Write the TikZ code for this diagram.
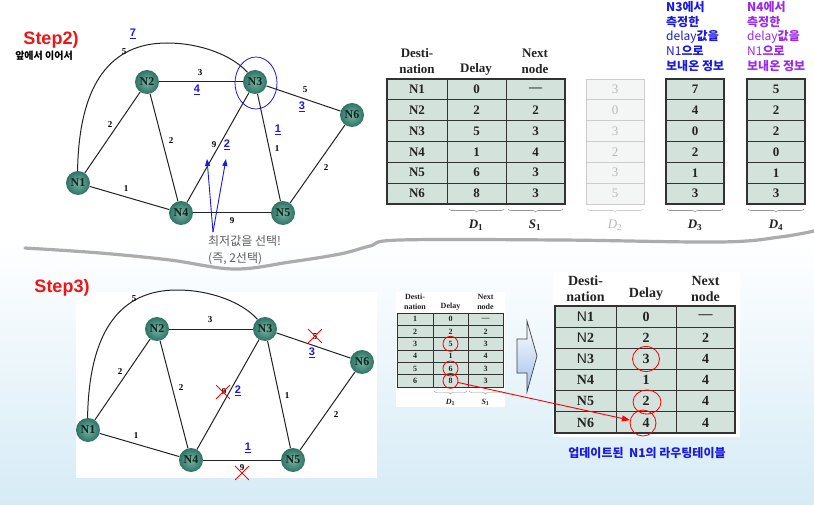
\documentclass[tikz,border=0pt]{standalone}
\usepackage{fontspec}
\setmainfont{Liberation Serif}
\newfontfamily\arial{Liberation Sans}
\newfontfamily\kr{Noto Sans CJK KR}
\usetikzlibrary{decorations.pathreplacing,arrows.meta,shapes.geometric,shapes.misc}
\definecolor{nodeIn}{RGB}{120,180,165}
\definecolor{nodeOut}{RGB}{45,115,100}
\definecolor{nodeTxt}{RGB}{20,35,30}
\definecolor{edgecol}{RGB}{35,35,35}
\definecolor{ublue}{RGB}{25,25,225}
\definecolor{upurple}{RGB}{155,40,235}
\definecolor{stepred}{RGB}{240,20,20}
\definecolor{tabfill}{RGB}{211,226,219}
\definecolor{tabline}{RGB}{50,50,50}
\definecolor{tabtext}{RGB}{35,35,35}
\definecolor{fadefill}{RGB}{243,246,244}
\definecolor{fadeline}{RGB}{205,205,205}
\definecolor{fadetext}{RGB}{185,185,185}
\definecolor{sepgrey}{RGB}{172,172,172}
\definecolor{bgblue}{RGB}{214,235,246}
\definecolor{greytxt}{RGB}{95,95,95}
\definecolor{arrowblue}{RGB}{160,190,235}
\definecolor{bracegrey}{RGB}{150,150,150}

\tikzset{
  edge/.style={draw=edgecol, line width=1pt},
  netnode/.style={circle, minimum size=24pt, inner sep=0pt, inner color=nodeIn, outer color=nodeOut, text=nodeTxt, font=\bfseries\fontsize{12}{12}\selectfont},
  wlab/.style={font=\bfseries\fontsize{9}{9}\selectfont, text=black, inner sep=0pt},
  bluelab/.style={font=\arial\bfseries\fontsize{11}{11}\selectfont, text=ublue, inner sep=0pt},
  redx/.style={cross out, draw=red, line width=0.8pt, minimum size=13pt, inner sep=0pt},
  cellbig/.style={fill=tabfill, draw=tabline, line width=0.9pt},
  fadecell/.style={fill=fadefill, draw=fadeline, line width=0.9pt},
  ttxt/.style={text=tabtext, font=\bfseries\fontsize{13}{13}\selectfont, inner sep=0pt},
  btxt/.style={text=tabtext, font=\bfseries\fontsize{14}{14}\selectfont, inner sep=0pt},
  stxt/.style={text=tabtext, font=\bfseries\fontsize{8}{8}\selectfont, inner sep=0pt},
  fadetxt/.style={text=fadetext, font=\fontsize{13}{13}\selectfont, inner sep=0pt},
  bracestyle/.style={draw=bracegrey, line width=0.6pt, decorate, decoration={brace, mirror, amplitude=3pt}},
  krblue/.style={text=ublue, font=\kr\fontsize{12}{12}\selectfont, inner sep=0pt},
  krpurple/.style={text=upurple, font=\kr\fontsize{12}{12}\selectfont, inner sep=0pt},
  redcirc/.style={circle, draw=red, line width=0.8pt, inner sep=0pt},
}

\newcommand\netgraph[1]{%
  \node[netnode] (#1N1) at (78,183) {N1};
  \node[netnode] (#1N2) at (147,82) {N2};
  \node[netnode] (#1N3) at (255,82) {N3};
  \node[netnode] (#1N4) at (181,213) {N4};
  \node[netnode] (#1N5) at (283,213) {N5};
  \node[netnode] (#1N6) at (352,115) {N6};
  \draw[edge] (#1N1) -- (#1N2);
  \draw[edge] (#1N1) -- (#1N4);
  \draw[edge] (#1N2) -- (#1N3);
  \draw[edge] (#1N2) -- (#1N4);
  \draw[edge] (#1N3) -- (#1N4);
  \draw[edge] (#1N3) -- (#1N5);
  \draw[edge] (#1N3) -- (#1N6);
  \draw[edge] (#1N4) -- (#1N5);
  \draw[edge] (#1N5) -- (#1N6);
  \draw[edge] (#1N1.92) .. controls (79,83) and (111,43) .. (167,43) .. controls (200,43) and (232,55) .. (#1N3.128);
  \node[wlab] (#1wa) at (124,52) {5};
  \node[wlab] (#1wb) at (200,73) {3};
  \node[wlab] (#1wc) at (305,90) {5};
  \node[wlab] (#1wd) at (110,125) {2};
  \node[wlab] (#1we) at (171,141) {2};
  \node[wlab] (#1wf) at (214,145) {9};
  \node[wlab] (#1wg) at (277,149) {1};
  \node[wlab] (#1wh) at (326,168) {2};
  \node[wlab] (#1wi) at (126,189) {1};
  \node[wlab] (#1wj) at (232,221) {9};
}

\begin{document}
\begin{tikzpicture}[x=1pt,y=-1pt]
\useasboundingbox (0,0) rectangle (814,505);
% background
\fill[white] (0,0) rectangle (814,240);
\shade[top color=white, bottom color=bgblue] (0,240) rectangle (814,505);

% separator
\draw[sepgrey, line width=3.2pt, line cap=round] plot[smooth, tension=0.6] coordinates {(25,248) (100,253) (170,260) (234,269) (290,262) (340,254) (370,246) (400,240) (560,240) (720,242) (780,237) (814,231)};

% ---------------- Step 2 ----------------
\node[text=stepred, font=\arial\bfseries\fontsize{18}{18}\selectfont, inner sep=0pt] (step2) at (51,40) {Step2)};
\node[font=\kr\bfseries\fontsize{10}{10}\selectfont, inner sep=0pt] (cont) at (44,56) {앞에서 이어서};

\netgraph{a}
\node[ellipse, draw=ublue, line width=0.8pt, minimum width=42pt, minimum height=52pt, inner sep=0pt] (sel) at (256,83) {};
\node[bluelab] (b7) at (133,34) {\underline{7}};
\node[bluelab] (b4) at (197,90) {\underline{4}};
\node[bluelab] (b3) at (302,107) {\underline{3}};
\node[bluelab] (b1) at (278,130) {\underline{1}};
\node[bluelab] (b2) at (227,145) {\underline{2}};

\node[text=greytxt, font=\kr\fontsize{12}{12}\selectfont, inner sep=0pt, anchor=base west] (pick) at (208,246) {최저값을 선택!};
\node[text=greytxt, font=\kr\fontsize{12}{12}\selectfont, inner sep=0pt, anchor=base west] (pick2) at (208,262) {(즉, 2선택)};
\coordinate (abase) at (213,232);
\coordinate (atipA) at (207,159);
\coordinate (atipB) at (226,159);
\draw[ublue, line width=0.9pt, -{Triangle[length=7pt,width=5pt]}] (abase) -- (atipA);
\draw[ublue, line width=0.9pt, -{Triangle[length=7pt,width=5pt]}] (abase) -- (atipB);

% Step2 table
\node[ttxt, anchor=base] (h1a) at (417,58) {Desti-};
\node[ttxt, anchor=base] (h1b) at (417,74) {nation};
\node[ttxt, anchor=base] (h2) at (476,73) {Delay};
\node[ttxt, anchor=base] (h3a) at (535,58) {Next};
\node[ttxt, anchor=base] (h3b) at (535,74) {node};
\foreach \i in {1,...,6} {
  \draw[cellbig] (387,{79+20.833*(\i-1)}) rectangle (447,{79+20.833*\i});
  \draw[cellbig] (447,{79+20.833*(\i-1)}) rectangle (506,{79+20.833*\i});
  \draw[cellbig] (506,{79+20.833*(\i-1)}) rectangle (565,{79+20.833*\i});
}
\draw[tabline, line width=1.2pt] (387,79) rectangle (565,204);
\foreach \d/\s [count=\i] in {0/\textemdash,2/2,5/3,1/4,6/3,8/3} {
  \node[ttxt] (ta\i) at (417,{79+20.833*(\i-0.5)}) {N\i};
  \node[ttxt] (tb\i) at (476.5,{79+20.833*(\i-0.5)}) {\d};
  \node[ttxt] (tc\i) at (535.5,{79+20.833*(\i-0.5)}) {\s};
}
\draw[bracestyle] (449,209) -- (504,209);
\draw[bracestyle] (508,209) -- (563,209);
\node[ttxt] (lD1) at (476,225) {\textit{D}\textsubscript{1}};
\node[ttxt] (lS1) at (535,225) {\textit{S}\textsubscript{1}};

% D2 faded
\foreach \v [count=\i] in {3,0,3,2,3,5} {
  \draw[fadecell] (586,{79+20.833*(\i-1)}) rectangle (644,{79+20.833*\i});
  \node[fadetxt] (dtwo\i) at (615,{79+20.833*(\i-0.5)}) {\v};
}
\draw[bracestyle, draw=fadeline] (587,209) -- (643,209);
\node[fadetxt] (lD2) at (615,225) {\textit{D}\textsubscript{2}};

% D3
\foreach \v [count=\i] in {7,4,0,2,1,3} {
  \draw[cellbig] (666,{79+20.833*(\i-1)}) rectangle (724,{79+20.833*\i});
  \node[ttxt] (dthree\i) at (695,{79+20.833*(\i-0.5)}) {\v};
}
\draw[tabline, line width=1.2pt] (666,79) rectangle (724,204);
\draw[bracestyle] (667,209) -- (723,209);
\node[ttxt] (lD3) at (695,225) {\textit{D}\textsubscript{3}};

% D4
\foreach \v [count=\i] in {5,2,2,0,1,3} {
  \draw[cellbig] (747,{79+20.833*(\i-1)}) rectangle (805,{79+20.833*\i});
  \node[ttxt] (dfour\i) at (776,{79+20.833*(\i-0.5)}) {\v};
}
\draw[tabline, line width=1.2pt] (747,79) rectangle (805,204);
\draw[bracestyle] (748,209) -- (804,209);
\node[ttxt] (lD4) at (776,225) {\textit{D}\textsubscript{4}};

% Korean captions
\node[krblue, anchor=base west] (k31) at (666,12) {\bfseries N3에서};
\node[krblue, anchor=base west] (k32) at (666,27) {\bfseries 측정한};
\node[krblue, anchor=base west] (k33) at (666,41) {delay{\bfseries 값을}};
\node[krblue, anchor=base west] (k34) at (666,56) {N1{\bfseries 으로}};
\node[krblue, anchor=base west] (k35) at (666,71) {\bfseries 보내온 정보};
\node[krpurple, anchor=base west] (k41) at (747,12) {\bfseries N4에서};
\node[krpurple, anchor=base west] (k42) at (747,27) {\bfseries 측정한};
\node[krpurple, anchor=base west] (k43) at (747,41) {delay{\bfseries 값을}};
\node[krpurple, anchor=base west] (k44) at (747,56) {N1{\bfseries 으로}};
\node[krpurple, anchor=base west] (k45) at (747,71) {\bfseries 보내온 정보};

% ---------------- Step 3 ----------------
\fill[white] (76,292) rectangle (377,478);
\node[text=stepred, font=\arial\bfseries\fontsize{18}{18}\selectfont, inner sep=0pt] (step3) at (62,288) {Step3)};
\begin{scope}[shift={(10,247)}]
  \netgraph{b}
  \node[redx] (xa) at (305,89) {};
  \node[redx] (xb) at (213,145) {};
  \node[redx] (xc) at (232,226) {};
  \node[bluelab] (c2) at (228,144) {\underline{2}};
  \node[bluelab] (c3) at (302,106) {\underline{3}};
  \node[bluelab] (c1) at (238,201) {\underline{1}};
\end{scope}

% small table
\fill[white] (396,292) rectangle (505,407);
\node[stxt, anchor=base] (sh1a) at (415,299) {Desti-};
\node[stxt, anchor=base] (sh1b) at (415,309) {nation};
\node[stxt, anchor=base] (sh2) at (450.5,308) {Delay};
\node[stxt, anchor=base] (sh3a) at (485.5,299) {Next};
\node[stxt, anchor=base] (sh3b) at (485.5,309) {node};
\foreach \i in {1,...,6} {
  \draw[cellbig, line width=0.7pt] (397,{313+12.33*(\i-1)}) rectangle (433,{313+12.33*\i});
  \draw[cellbig, line width=0.7pt] (433,{313+12.33*(\i-1)}) rectangle (468,{313+12.33*\i});
  \draw[cellbig, line width=0.7pt] (468,{313+12.33*(\i-1)}) rectangle (503,{313+12.33*\i});
}
\foreach \d/\s [count=\i] in {0/\textemdash,2/2,5/3,1/4,6/3,8/3} {
  \node[stxt] (sa\i) at (415,{313+12.33*(\i-0.5)}) {\i};
  \node[stxt] (sb\i) at (450.5,{313+12.33*(\i-0.5)}) {\d};
  \node[stxt] (sc\i) at (485.5,{313+12.33*(\i-0.5)}) {\s};
}
\node[redcirc, minimum size=15pt] (scA) at (450.5,{313+12.33*2.5}) {};
\node[redcirc, minimum size=15pt] (scB) at (450.5,{313+12.33*4.5}) {};
\node[redcirc, minimum size=15pt] (scC) at (450.5,{313+12.33*5.5}) {};
\draw[bracestyle, line width=0.4pt] (434,391) -- (467,391);
\draw[bracestyle, line width=0.4pt] (469,391) -- (502,391);
\node[stxt] (slD) at (450.5,402) {\textit{D}\textsubscript{1}};
\node[stxt] (slS) at (485.5,402) {\textit{S}\textsubscript{1}};

% block arrow
\shade[top color=white, bottom color=arrowblue, draw=black!75, line width=0.7pt]
  (517,339) -- (527,339) -- (527,321) -- (537,356) -- (527,392) -- (527,373) -- (517,373) -- cycle;

% big table
\fill[white] (553,272) rectangle (740,437);
\node[btxt, anchor=base] (bh1a) at (585.5,285) {Desti-};
\node[btxt, anchor=base] (bh1b) at (585.5,301) {nation};
\node[btxt, anchor=base] (bh2) at (646,298) {Delay};
\node[btxt, anchor=base] (bh3a) at (705.5,285) {Next};
\node[btxt, anchor=base] (bh3b) at (705.5,301) {node};
\foreach \i in {1,...,6} {
  \draw[cellbig] (555,{306+21.17*(\i-1)}) rectangle (616,{306+21.17*\i});
  \draw[cellbig] (616,{306+21.17*(\i-1)}) rectangle (676,{306+21.17*\i});
  \draw[cellbig] (676,{306+21.17*(\i-1)}) rectangle (735,{306+21.17*\i});
}
\draw[tabline, line width=1.2pt] (555,306) rectangle (735,433);
\foreach \l/\d/\s [count=\i] in {{{\arial\mdseries N}1}/0/\textemdash,{{\arial\mdseries N}2}/2/2,{{\arial\mdseries N}3}/3/4,N4/1/4,N5/2/4,N6/4/4} {
  \node[btxt] (ba\i) at (585.5,{306+21.17*(\i-0.5)}) {\l};
  \node[btxt] (bb\i) at (646,{306+21.17*(\i-0.5)}) {\d};
  \node[btxt] (bc\i) at (705.5,{306+21.17*(\i-0.5)}) {\s};
}
\node[redcirc, minimum width=27pt, minimum height=25pt, ellipse] (bcA) at (646,359) {};
\node[redcirc, minimum width=28pt, minimum height=24pt, ellipse] (bcB) at (647,402) {};
\node[redcirc, minimum size=26pt] (bcC) at (643,423) {};
\draw[red, line width=0.9pt, -{Triangle[length=8pt,width=6pt]}] (scC) -- (bcC);

\node[text=ublue, font=\kr\bfseries\fontsize{12}{12}\selectfont, inner sep=0pt] (capt) at (647,453) {업데이트된\ \ N1의 라우팅테이블};
\end{tikzpicture}
\end{document}
